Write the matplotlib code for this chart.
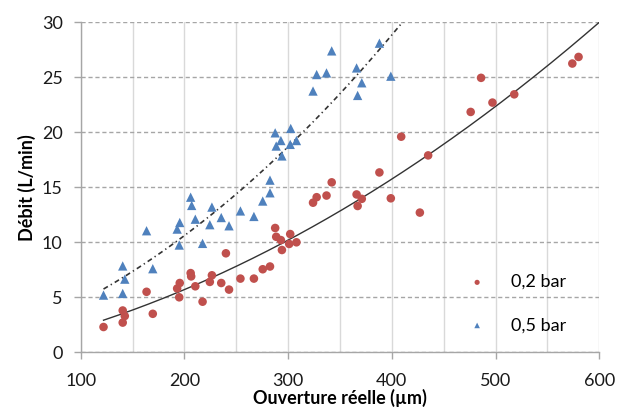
import numpy as np
import matplotlib
matplotlib.use("Agg")
import matplotlib.pyplot as plt
from matplotlib.ticker import MultipleLocator

plt.rcParams['font.family'] = ['Lato', 'DejaVu Sans']

# 0,2 bar
x_02 = [122, 140.5, 142.5, 140.5, 163.5, 169.5, 193, 195.5, 195, 206, 206.5, 210.5,
        217.5, 224.5, 226.5, 235.5, 240, 243, 254, 267, 275.5, 282.5, 287.5, 288.5,
        293, 294, 302, 301, 308, 324, 327.5, 337, 342, 366, 371, 367, 388, 399,
        409, 427, 435, 476, 486, 497, 518, 574, 580]
y_02 = [2.3, 3.8, 3.3, 2.7, 5.5, 3.5, 5.8, 6.3, 5.0, 7.2, 6.9, 6.0,
        4.6, 6.4, 7.0, 6.3, 9.0, 5.7, 6.7, 6.7, 7.55, 7.8, 11.3, 10.5,
        10.2, 9.3, 10.75, 9.85, 10.0, 13.6, 14.1, 14.25, 15.45, 14.35, 13.95, 13.3, 16.35, 14.0,
        19.6, 12.7, 17.9, 21.85, 24.95, 22.7, 23.45, 26.25, 26.85]

# 0,5 bar
x_05 = [122, 140.5, 142.5, 140.5, 163.5, 169.5, 193, 195.5, 195, 206, 207, 210.5,
        217.5, 224.5, 226.5, 235.5, 243, 254, 267, 275.5, 282.5, 282.5, 287.5, 288.5,
        293, 294, 302, 302.5, 308, 324, 327.5, 337, 342, 366, 371, 367, 388, 399]
y_05 = [5.2, 7.85, 6.65, 5.35, 11.05, 7.6, 11.2, 11.8, 9.75, 14.1, 13.35, 12.1,
        9.9, 11.6, 13.2, 12.25, 11.5, 12.85, 12.35, 13.75, 14.5, 15.65, 19.95, 18.75,
        19.25, 17.85, 18.9, 20.35, 19.25, 23.75, 25.25, 25.4, 27.4, 25.85, 24.5, 23.35, 28.1, 25.1]

# polynomial trend lines (c2, c1, c0)
trend_02 = [0.0000525, 0.01875, -0.15]
trend_05 = [0.000104, 0.0288, 0.69]
trend_range = [122, 600]

labels = ['0,2 bar', '0,5 bar']
red = '#C0504D'
blue = '#4F81BD'

fig = plt.figure(figsize=(6.17, 4.12), dpi=100)
ax = fig.add_axes([0.1308, 0.1449, 0.8405, 0.801])

xt = np.linspace(trend_range[0], trend_range[1], 300)
ax.plot(xt, np.polyval(trend_02, xt), color='#333333', lw=1.0, zorder=2)
ax.plot(xt, np.polyval(trend_05, xt), color='#333333', lw=1.2, dashes=(3, 2, 0.8, 2), zorder=2)

ax.scatter(x_02, y_02, s=38, color=red, edgecolors='none', label=labels[0], zorder=3)
ax.scatter(x_05, y_05, s=45, marker='^', color=blue, edgecolors='none', label=labels[1], zorder=3)

ax.set_xlim(100, 600)
ax.set_ylim(0, 30)
ax.xaxis.set_major_locator(MultipleLocator(100))
ax.xaxis.set_minor_locator(MultipleLocator(50))
ax.yaxis.set_major_locator(MultipleLocator(5))

ax.grid(axis='x', which='both', color='#D9D9D9', lw=1.0, zorder=0)
ax.grid(axis='y', which='major', color='#A6A6A6', lw=1.0, ls=(0, (3, 2)), zorder=0)
ax.set_axisbelow(True)

for s in ['top', 'right']:
    ax.spines[s].set_visible(False)
for s in ['left', 'bottom']:
    ax.spines[s].set_color('#A6A6A6')
    ax.spines[s].set_linewidth(1.0)

ax.tick_params(axis='both', which='major', direction='out', length=5, width=1,
               color='#A6A6A6', labelsize=13, labelcolor='#1a1a1a')
ax.tick_params(axis='x', which='major', pad=10)
ax.tick_params(axis='y', which='major', pad=8)
ax.tick_params(axis='x', which='minor', length=0)

ax.set_xlabel('Ouverture réelle (µm)', fontsize=13, fontweight='bold', labelpad=0)
ax.set_ylabel('Débit (L/min)', fontsize=13, fontweight='bold', labelpad=4)

ax.legend(loc='upper left', bbox_to_anchor=(0.747, 0.237), frameon=False, fontsize=13,
          markerscale=0.6, handlelength=1.0, handletextpad=1.35, labelspacing=1.5,
          borderpad=0, borderaxespad=0)

fig.savefig('out.png', dpi=100)
